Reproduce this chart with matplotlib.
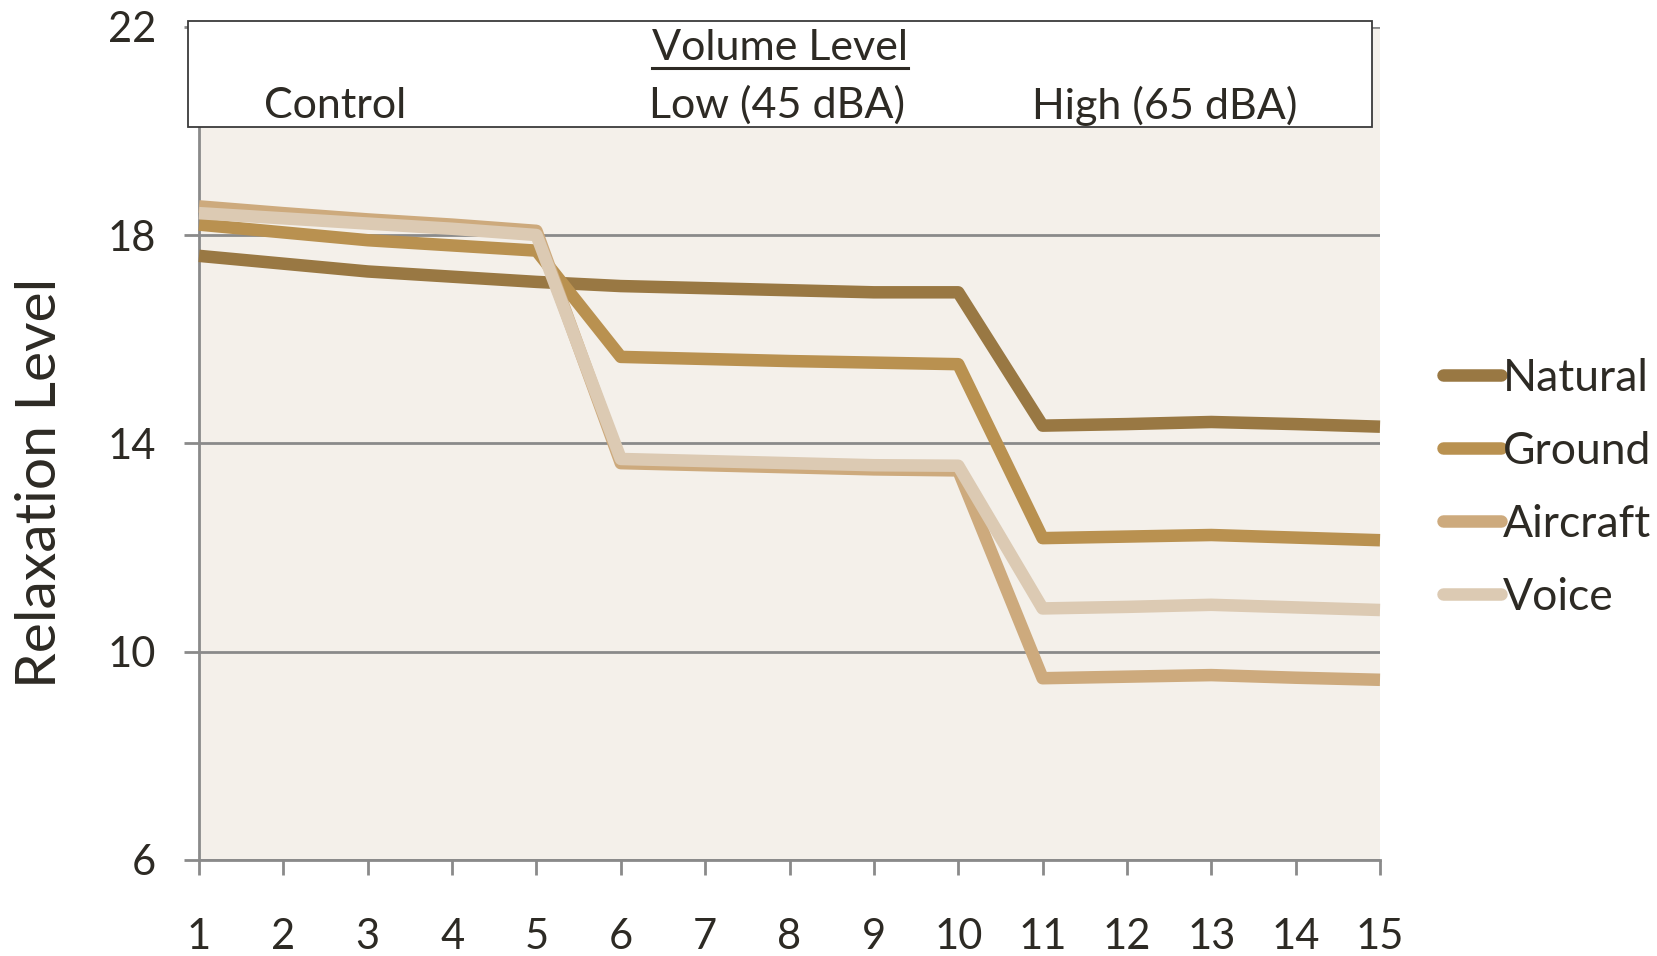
import matplotlib
matplotlib.use("Agg")
import matplotlib.pyplot as plt
from matplotlib.patches import Rectangle
from matplotlib.lines import Line2D

plt.rcParams['font.family'] = ['Lato', 'DejaVu Sans']

x = list(range(1, 16))
natural = [17.6, 17.45, 17.3, 17.2, 17.1, 17.02, 16.98, 16.94, 16.9, 16.9, 14.34, 14.37, 14.41, 14.37, 14.32]
ground = [18.2, 18.05, 17.9, 17.8, 17.7, 15.66, 15.62, 15.58, 15.55, 15.52, 12.18, 12.21, 12.24, 12.19, 12.14]
aircraft = [18.55, 18.42, 18.3, 18.2, 18.08, 13.62, 13.58, 13.54, 13.5, 13.48, 9.49, 9.52, 9.55, 9.5, 9.46]
voice = [18.42, 18.32, 18.22, 18.12, 18.0, 13.7, 13.66, 13.62, 13.58, 13.57, 10.83, 10.86, 10.9, 10.85, 10.8]

series = [("Natural", natural, "#997843"),
          ("Ground", ground, "#B99150"),
          ("Aircraft", aircraft, "#CDAA7D"),
          ("Voice", voice, "#DCCAB3")]

yticks = [6, 10, 14, 18, 22]
header = "Volume Level"
groups = ["Control", "Low (45 dBA)", "High (65 dBA)"]

TXT = "#2d2a24"
GRID = "#8a8a8a"

fig = plt.figure(figsize=(16.58, 9.56), dpi=100)
ax = fig.add_axes([0.12003, 0.10042, 0.7123, 0.87166])
ax.set_facecolor("#F4F0EA")

for name, vals, col in series:
    ax.plot(x, vals, color=col, lw=9, label=name, solid_joinstyle='round',
            solid_capstyle='butt', clip_on=False, zorder=3)

ax.set_xlim(1, 15)
ax.set_ylim(6, 22)
ax.set_xticks(x)
ax.set_yticks(yticks)
ax.grid(axis='y', color=GRID, lw=2, zorder=1)
ax.set_axisbelow(True)
for s in ['top', 'right']:
    ax.spines[s].set_visible(False)
for s in ['left', 'bottom']:
    ax.spines[s].set_color(GRID)
    ax.spines[s].set_linewidth(2)
ax.tick_params(axis='both', colors=GRID, labelcolor=TXT, labelsize=30, width=2, length=11)
ax.tick_params(axis='x', pad=31)
ax.tick_params(axis='y', pad=20)

fig.text(0.0245, 0.4948, "Relaxation Level", rotation=90, ha='center', va='center',
         fontsize=41, color=TXT)

leg = ax.legend(loc='center left', bbox_to_anchor=(0.8705, 0.490), bbox_transform=fig.transFigure,
                frameon=False, fontsize=32, handlelength=1.3, handletextpad=0.04,
                labelspacing=0.72, borderpad=0, borderaxespad=0)
for t in leg.get_texts():
    t.set_color(TXT)
for h in leg.get_lines():
    h.set_solid_capstyle('round')
    h.set_linewidth(9)

# header box
box = Rectangle((188 / 1658, 1 - 127 / 956), (1372.5 - 188) / 1658, 106 / 956,
                transform=fig.transFigure, facecolor='white', edgecolor='#3a3a3a',
                lw=1.3, zorder=10)
fig.add_artist(box)
ht = fig.text(780 / 1658, 1 - 48 / 956, header, ha='center', va='center', fontsize=31,
              color=TXT, zorder=11)
for lbl, xc in zip(groups, [335, 777, 1165]):
    fig.text(xc / 1658, 1 - 105.5 / 956, lbl, ha='center', va='center', fontsize=31,
             color=TXT, zorder=11)

fig.canvas.draw()
bb = ht.get_window_extent()
x0, x1 = bb.x0 / 1658, bb.x1 / 1658
uy = 1 - 67.7 / 956
fig.add_artist(Line2D([x0, x1], [uy, uy], transform=fig.transFigure, color=TXT, lw=2.2, zorder=11))

fig.savefig("out.png", dpi=100)
